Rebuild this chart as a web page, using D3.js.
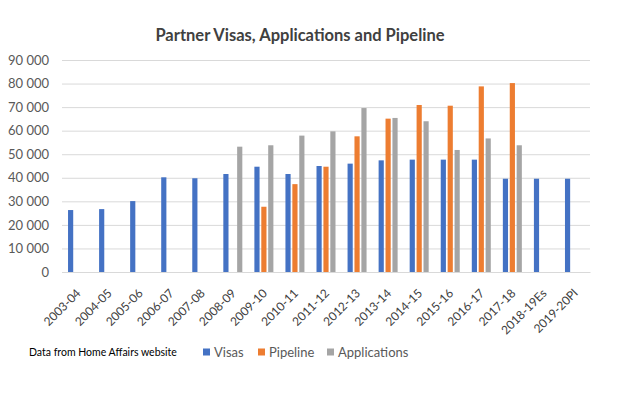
<!DOCTYPE html>
<html>
<head>
<meta charset="utf-8">
<script src="https://cdn.jsdelivr.net/npm/d3@7"></script>
<style>
  body { margin: 0; background: #fff; }
  svg { display: block; }
</style>
</head>
<body>
<svg id="chart" width="622" height="396"></svg>
<script>
const years = ["2003-04", "2004-05", "2005-06", "2006-07", "2007-08", "2008-09", "2009-10",
    "2010-11", "2011-12", "2012-13", "2013-14", "2014-15", "2015-16", "2016-17", "2017-18",
    "2018-19Es", "2019-20Pl"];

const visas = [26300, 26700, 30100, 40200, 39800, 41600, 44700, 41600, 45000, 46000,
    47400, 47700, 47700, 47700, 39600, 39600, 39600];
const pipeline = [null, null, null, null, null, null, 27700, 37300, 44700, 57600,
    65100, 70900, 70600, 78800, 80200, null, null];
const applications = [null, null, null, null, null, 53200, 53800, 57900, 59700, 69600,
    65400, 64000, 51800, 56700, 53800, null, null];

const yTicks = [0, 10000, 20000, 30000, 40000, 50000, 60000, 70000, 80000, 90000];

const seriesNames = ["Visas", "Pipeline", "Applications"];
const colors = {
    Visas: "#4472C4",
    Pipeline: "#ED7D31",
    Applications: "#A5A5A5"
};

const rows = years.map((yr, i) => ({
    year: yr,
    Visas: visas[i],
    Pipeline: pipeline[i],
    Applications: applications[i]
}));

let svg = d3.select("#chart"),
    margin = {top: 60, right: 32, bottom: 124, left: 62},
    width = +svg.attr("width") - margin.left - margin.right,
    height = +svg.attr("height") - margin.top - margin.bottom,
    g = svg.append("g").attr("transform", "translate(" + margin.left + "," + margin.top + ")");

const font = "Lato, 'Open Sans', sans-serif";

let x = d3.scaleBand()
    .domain(years)
    .range([0, width])
    .padding(0);

let x1 = d3.scaleBand()
    .domain(seriesNames)
    .range([-9.5, 9.5])
    .paddingInner(0.25);

let y = d3.scaleLinear()
    .domain([0, 90000])
    .range([height, 0]);

// title
svg.append("text")
    .attr("x", 300)
    .attr("y", 41)
    .attr("text-anchor", "middle")
    .style("font", "bold 16.5px " + font)
    .attr("fill", "#404040")
    .text("Partner Visas, Applications and Pipeline");

// gridlines + y labels
let yAxis = g.append("g")
    .call(d3.axisLeft(y).tickValues(yTicks).tickSize(-width).tickFormat(d => d3.format(",")(d).replace(/,/g, " ")));
yAxis.select(".domain").remove();
yAxis.selectAll(".tick line").attr("stroke", "#d9d9d9");
yAxis.selectAll(".tick text")
    .attr("x", -13)
    .attr("fill", "#595959")
    .style("font", "13px " + font);

// bars
let groups = g.selectAll(".year")
    .data(rows)
    .enter().append("g")
    .attr("class", "year")
    .attr("transform", d => "translate(" + (x(d.year) + x.bandwidth() / 2) + ",0)");

groups.selectAll("rect")
    .data(d => seriesNames.filter(k => d[k] != null).map(k => ({key: k, value: d[k]})))
    .enter().append("rect")
    .attr("x", d => x1(d.key))
    .attr("width", x1.bandwidth())
    .attr("y", d => y(d.value))
    .attr("height", d => height - y(d.value))
    .attr("fill", d => colors[d.key]);

// x axis
let xAxis = g.append("g")
    .attr("transform", "translate(0," + height + ")")
    .call(d3.axisBottom(x).tickSize(0));
xAxis.select(".domain").attr("stroke", "#d9d9d9");
xAxis.selectAll(".tick text")
    .attr("text-anchor", "end")
    .attr("fill", "#404040")
    .style("font", "12px " + font)
    .attr("transform", "translate(1,19) rotate(-45)")
    .attr("dy", "0.35em")
    .attr("y", 0);

// source note
svg.append("text")
    .attr("x", 29)
    .attr("y", 356)
    .attr("fill", "#000")
    .style("font", "10.5px " + font)
    .text("Data from Home Affairs website");

// legend
let legend = svg.append("g")
    .attr("transform", "translate(203,352)");
const legendX = {Visas: 0, Pipeline: 55, Applications: 124};
let item = legend.selectAll(".legend")
    .data(seriesNames)
    .enter().append("g")
    .attr("class", "legend")
    .attr("transform", d => "translate(" + legendX[d] + ",0)");
item.append("rect")
    .attr("x", 0)
    .attr("y", -3.5)
    .attr("width", 7)
    .attr("height", 7)
    .attr("fill", d => colors[d]);
item.append("text")
    .attr("x", 11)
    .attr("dy", "0.35em")
    .attr("fill", "#595959")
    .style("font", "13px " + font)
    .text(d => d);
</script>
</body>
</html>
